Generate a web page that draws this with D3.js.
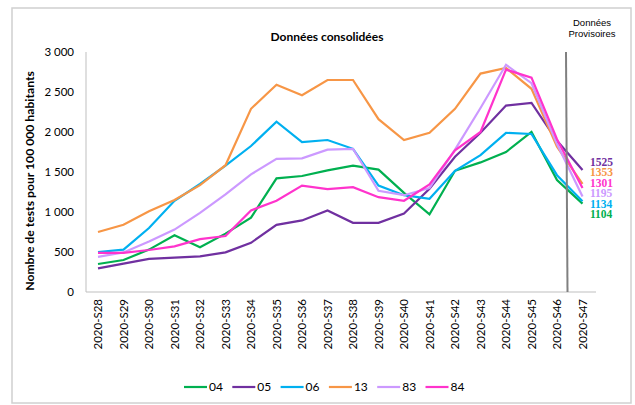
<!DOCTYPE html>
<html>
<head>
<meta charset="utf-8">
<script src="https://cdn.jsdelivr.net/npm/d3@7"></script>
<style>
  body { margin: 0; background: #fff; }
  text { font-family: Lato, "Open Sans", sans-serif; fill: #000; }
</style>
</head>
<body>
<svg id="chart" width="635" height="405"></svg>
<script>
var weeks = ["2020-S28","2020-S29","2020-S30","2020-S31","2020-S32","2020-S33","2020-S34","2020-S35","2020-S36","2020-S37",
             "2020-S38","2020-S39","2020-S40","2020-S41","2020-S42","2020-S43","2020-S44","2020-S45","2020-S46","2020-S47"];

var dep04 = [350, 400, 530, 710, 560, 730, 930, 1420, 1450, 1520, 1580, 1530, 1240, 970, 1515, 1620, 1750, 2000, 1400, 1104];
var dep05 = [295, 355, 415, 430, 445, 495, 615, 840, 895, 1020, 865, 865, 980, 1290, 1690, 1990, 2330, 2365, 1890, 1525];
var dep06 = [500, 530, 800, 1140, 1350, 1580, 1825, 2130, 1875, 1900, 1790, 1330, 1210, 1165, 1515, 1710, 1990, 1975, 1460, 1134];
var dep13 = [750, 840, 1010, 1150, 1335, 1585, 2290, 2590, 2460, 2650, 2650, 2160, 1900, 1990, 2290, 2730, 2800, 2540, 1815, 1353];
var dep83 = [440, 495, 630, 780, 990, 1220, 1470, 1665, 1670, 1780, 1790, 1265, 1210, 1300, 1780, 2300, 2840, 2610, 1850, 1195];
var dep84 = [490, 490, 525, 570, 660, 700, 1020, 1140, 1330, 1285, 1310, 1185, 1140, 1345, 1770, 2000, 2780, 2680, 1910, 1301];

var yTicks = [0, 500, 1000, 1500, 2000, 2500, 3000];
var yTickLabels = ["0", "500", "1 000", "1 500", "2 000", "2 500", "3 000"];

// series, in legend order; end labels listed top to bottom separately
var series = [
  { name: "04", values: dep04, color: "#00b050" },
  { name: "05", values: dep05, color: "#7030a0" },
  { name: "06", values: dep06, color: "#00b0f0" },
  { name: "13", values: dep13, color: "#f79646" },
  { name: "83", values: dep83, color: "#cc99ff" },
  { name: "84", values: dep84, color: "#ff33cc" }
];
var endLabelOrder = ["05", "13", "84", "83", "06", "04"];

var svg = d3.select("#chart");

// outer frame
svg.append("rect")
  .attr("x", 12).attr("y", 8)
  .attr("width", 619).attr("height", 395)
  .attr("fill", "none")
  .attr("stroke", "#d0d0d0")
  .attr("stroke-width", 1.5);

var x = d3.scalePoint()
  .domain(weeks)
  .range([98, 582.5]);

var y = d3.scaleLinear()
  .domain([0, 3000])
  .range([292, 52]);

// axes lines
svg.append("line")
  .attr("x1", 86).attr("x2", 86)
  .attr("y1", y(3000)).attr("y2", y(0))
  .attr("stroke", "#bfbfbf").attr("stroke-width", 1);
svg.append("line")
  .attr("x1", 86).attr("x2", 596)
  .attr("y1", y(0)).attr("y2", y(0))
  .attr("stroke", "#bfbfbf").attr("stroke-width", 1);

// y tick labels
svg.selectAll(".ytick")
  .data(yTicks)
  .enter().append("text")
  .attr("class", "ytick")
  .attr("x", 74)
  .attr("y", function(d) { return y(d); })
  .attr("dy", "0.35em")
  .attr("text-anchor", "end")
  .style("font-size", "11.5px")
  .text(function(d, i) { return yTickLabels[i]; });

// x tick labels (rotated)
svg.selectAll(".xtick")
  .data(weeks)
  .enter().append("text")
  .attr("class", "xtick")
  .attr("transform", function(d) { return "translate(" + x(d) + ",299) rotate(-90)"; })
  .attr("dy", "0.35em")
  .attr("text-anchor", "end")
  .style("font-size", "11.5px")
  .text(function(d) { return d; });

// y axis title
svg.append("text")
  .attr("transform", "translate(30,181) rotate(-90)")
  .attr("text-anchor", "middle")
  .attr("dy", "0.35em")
  .style("font-size", "12.2px")
  .style("font-weight", "bold")
  .text("Nombre de tests pour 100 000 habitants");

// chart title
svg.append("text")
  .attr("x", 327).attr("y", 37)
  .attr("dy", "0.35em")
  .attr("text-anchor", "middle")
  .style("font-size", "12px")
  .style("font-weight", "bold")
  .text("Données consolidées");

// provisional data note
svg.append("text")
  .attr("x", 592).attr("y", 23)
  .attr("dy", "0.35em")
  .attr("text-anchor", "middle")
  .style("font-family", "'Liberation Sans', Arial, sans-serif")
  .style("font-size", "9.5px")
  .text("Données");
svg.append("text")
  .attr("x", 592).attr("y", 34)
  .attr("dy", "0.35em")
  .attr("text-anchor", "middle")
  .style("font-family", "'Liberation Sans', Arial, sans-serif")
  .style("font-size", "9.5px")
  .text("Provisoires");

// series lines
var line = d3.line()
  .x(function(d, i) { return x(weeks[i]); })
  .y(function(d) { return y(d); });

svg.selectAll(".series")
  .data(series)
  .enter().append("path")
  .attr("class", "series")
  .attr("d", function(s) { return line(s.values); })
  .attr("fill", "none")
  .attr("stroke", function(s) { return s.color; })
  .attr("stroke-width", 2.2)
  .attr("stroke-linejoin", "miter");

// separator consolidated / provisional
svg.append("line")
  .attr("x1", 566).attr("x2", 567.5)
  .attr("y1", y(3000)).attr("y2", y(0))
  .attr("stroke", "#808080").attr("stroke-width", 2);

// end value labels
var byName = {};
series.forEach(function(s) { byName[s.name] = s; });
svg.selectAll(".endlabel")
  .data(endLabelOrder)
  .enter().append("text")
  .attr("class", "endlabel")
  .attr("x", 590)
  .attr("y", function(d, i) { return 162 + i * 10.5; })
  .attr("dy", "0.33em")
  .style("font-family", "'Liberation Serif', 'DejaVu Serif', serif")
  .style("font-size", "11.5px")
  .style("font-weight", "bold")
  .style("fill", function(d) { return byName[d].color; })
  .text(function(d) { var v = byName[d].values; return v[v.length - 1]; });

// legend
var legend = svg.selectAll(".legend")
  .data(series)
  .enter().append("g")
  .attr("class", "legend")
  .attr("transform", function(d, i) { return "translate(" + (184 + i * 48.3) + ",387)"; });
legend.append("line")
  .attr("x1", 0).attr("x2", 23)
  .attr("stroke", function(d) { return d.color; })
  .attr("stroke-width", 2.2);
legend.append("text")
  .attr("x", 25)
  .attr("dy", "0.35em")
  .style("font-size", "12px")
  .text(function(d) { return d.name; });
</script>
</body>
</html>
